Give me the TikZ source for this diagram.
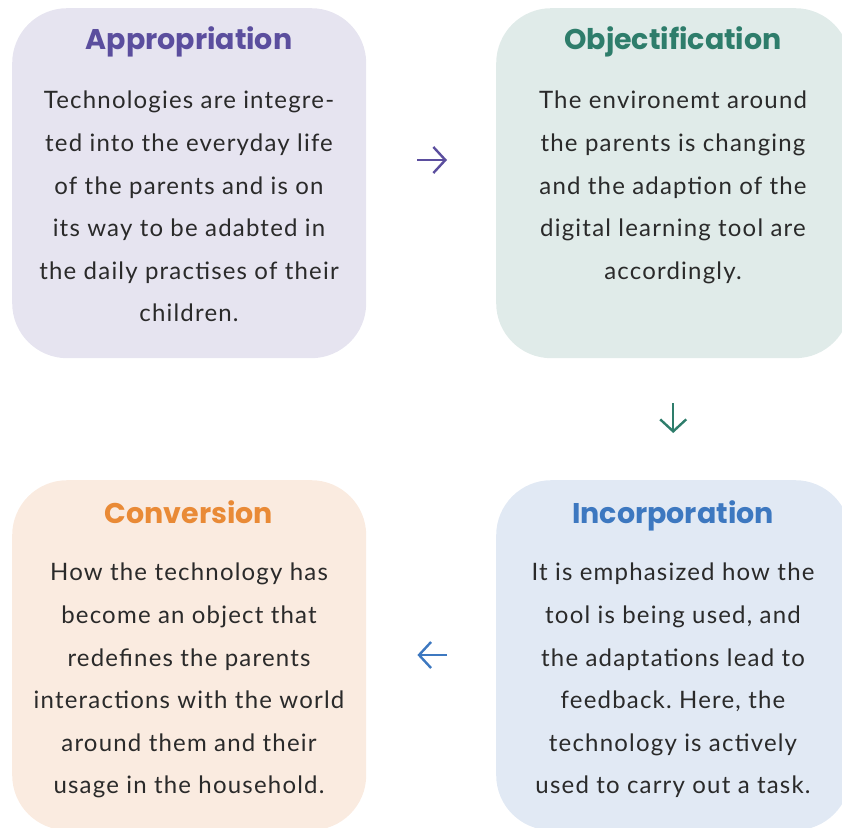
\documentclass[tikz,border=0pt]{standalone}
\usepackage{fontspec}
\setmainfont{Lato}[LetterSpace=5]
\newfontfamily\headfont{Poppins}
\usetikzlibrary{arrows.meta}
\definecolor{purpH}{HTML}{5B4E9E}
\definecolor{purpBg}{HTML}{E6E4F0}
\definecolor{greenH}{HTML}{2E7D6B}
\definecolor{greenBg}{HTML}{E0EBE9}
\definecolor{orangeH}{HTML}{E98A36}
\definecolor{orangeBg}{HTML}{FAEBE0}
\definecolor{blueH}{HTML}{3D78C0}
\definecolor{blueBg}{HTML}{E1E9F4}
\definecolor{bodytext}{HTML}{2A2A2A}
\frenchspacing
\begin{document}
\begin{tikzpicture}[x=1pt,y=-1pt,
  box/.style={rectangle, rounded corners=55pt, minimum width=354pt, minimum height=350pt, inner sep=0pt, anchor=north west},
  head/.style={font=\headfont\bfseries\fontsize{28.5}{32}\selectfont, anchor=base, inner sep=0pt},
  body/.style={font=\frenchspacing\fontsize{24}{42.6}\selectfont, align=center, anchor=north, inner sep=0pt, text=bodytext},
  arr/.style={line width=2.4pt, -{Straight Barb[length=12pt,width=26pt]}}]
\useasboundingbox (0,0) rectangle (842,827);
\node[box, fill=purpBg] (app) at (12,8) {};
\node[box, fill=greenBg] (obj) at (496,8) {};
\node[box, fill=orangeBg] (con) at (12,480) {};
\node[box, fill=blueBg] (inc) at (496,480) {};
\node[head, text=purpH] (apph) at (189,49) {Appropriation};
\node[head, text=greenH] (objh) at (673,49) {Objectification};
\node[head, text=orangeH] (conh) at (189,523) {Conversion};
\node[head, text=blueH] (inch) at (673,523) {Incorporation};
\node[body] (appb) at (189,91) {Technologies are integre-\\ted into the everyday life\\of the parents and is on\\its way to be adabted in\\the daily practises of their\\children.};
\node[body] (objb) at (673,91) {The environemt around\\the parents is changing\\and the adaption of the\\digital learning tool are\\accordingly.};
\node[body] (conb) at (189,563) {How the technology has\\become an object that\\redefines the parents\\interactions with the world\\around them and their\\usage in the household.};
\node[body] (incb) at (673,563) {It is emphasized how the\\tool is being used, and\\the adaptations lead to\\feedback. Here, the\\technology is actively\\used to carry out a task.};
\draw[arr, purpH, shorten <=51pt, shorten >=49pt] (app.east |- 0,160) -- (obj.west |- 0,160);
\draw[arr, greenH, shorten <=45pt, shorten >=47pt] (obj.south) -- (inc.north);
\draw[arr, blueH, shorten <=49pt, shorten >=51pt] (inc.west |- 0,655) -- (con.east |- 0,655);
\end{tikzpicture}
\end{document}
